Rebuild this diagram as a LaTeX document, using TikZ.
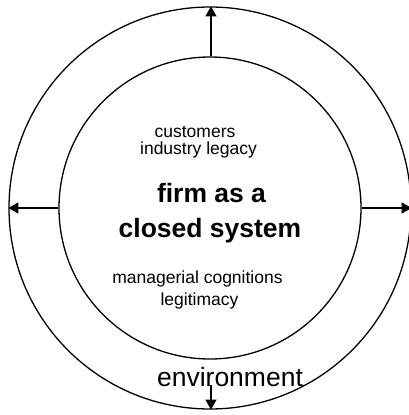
\documentclass[tikz,border=0pt]{standalone}
\usepackage{fontspec}
\setmainfont{Liberation Sans}
\usetikzlibrary{arrows.meta}
\begin{document}
\begin{tikzpicture}[x=1pt,y=-1pt,
  ring/.style={draw,circle,line width=1.3pt,inner sep=0pt},
  arr/.style={line width=1.3pt,-{Triangle[length=10pt,width=11pt]}},
  small/.style={font=\fontsize{17.5}{20}\selectfont,anchor=base,inner sep=0pt},
  big/.style={font=\fontsize{26.5}{30}\selectfont\bfseries,anchor=base,inner sep=0pt},
  env/.style={font=\fontsize{26.5}{30}\selectfont,anchor=base,inner sep=0pt}]
\useasboundingbox (0,0) rectangle (409,415);
\node[ring,minimum size=402pt] (outer) at (210,208) {};
\node[ring,minimum size=302pt] (inner) at (210,208) {};
\coordinate (c) at (211,208);
\draw[arr] (inner.north -| c) -- (outer.north -| c);
\draw[arr] (inner.west) -- (outer.west);
\draw[arr] (inner.east) -- (outer.east);
\node[small] (t1) at (195,137) {customers};
\node[small] (t2) at (198.5,154) {industry legacy};
\node[big] (t3) at (211.5,202) {firm as a};
\node[big] (t4) at (210,237) {closed system};
\node[small] (t5) at (197.5,283) {managerial cognitions};
\node[small] (t6) at (199.5,305) {legitimacy};
\node[env] (t7) at (230,386) {environment};
\coordinate (bs) at (211,385);
\draw[arr] (bs) -- (outer.south -| c);
\end{tikzpicture}
\end{document}
